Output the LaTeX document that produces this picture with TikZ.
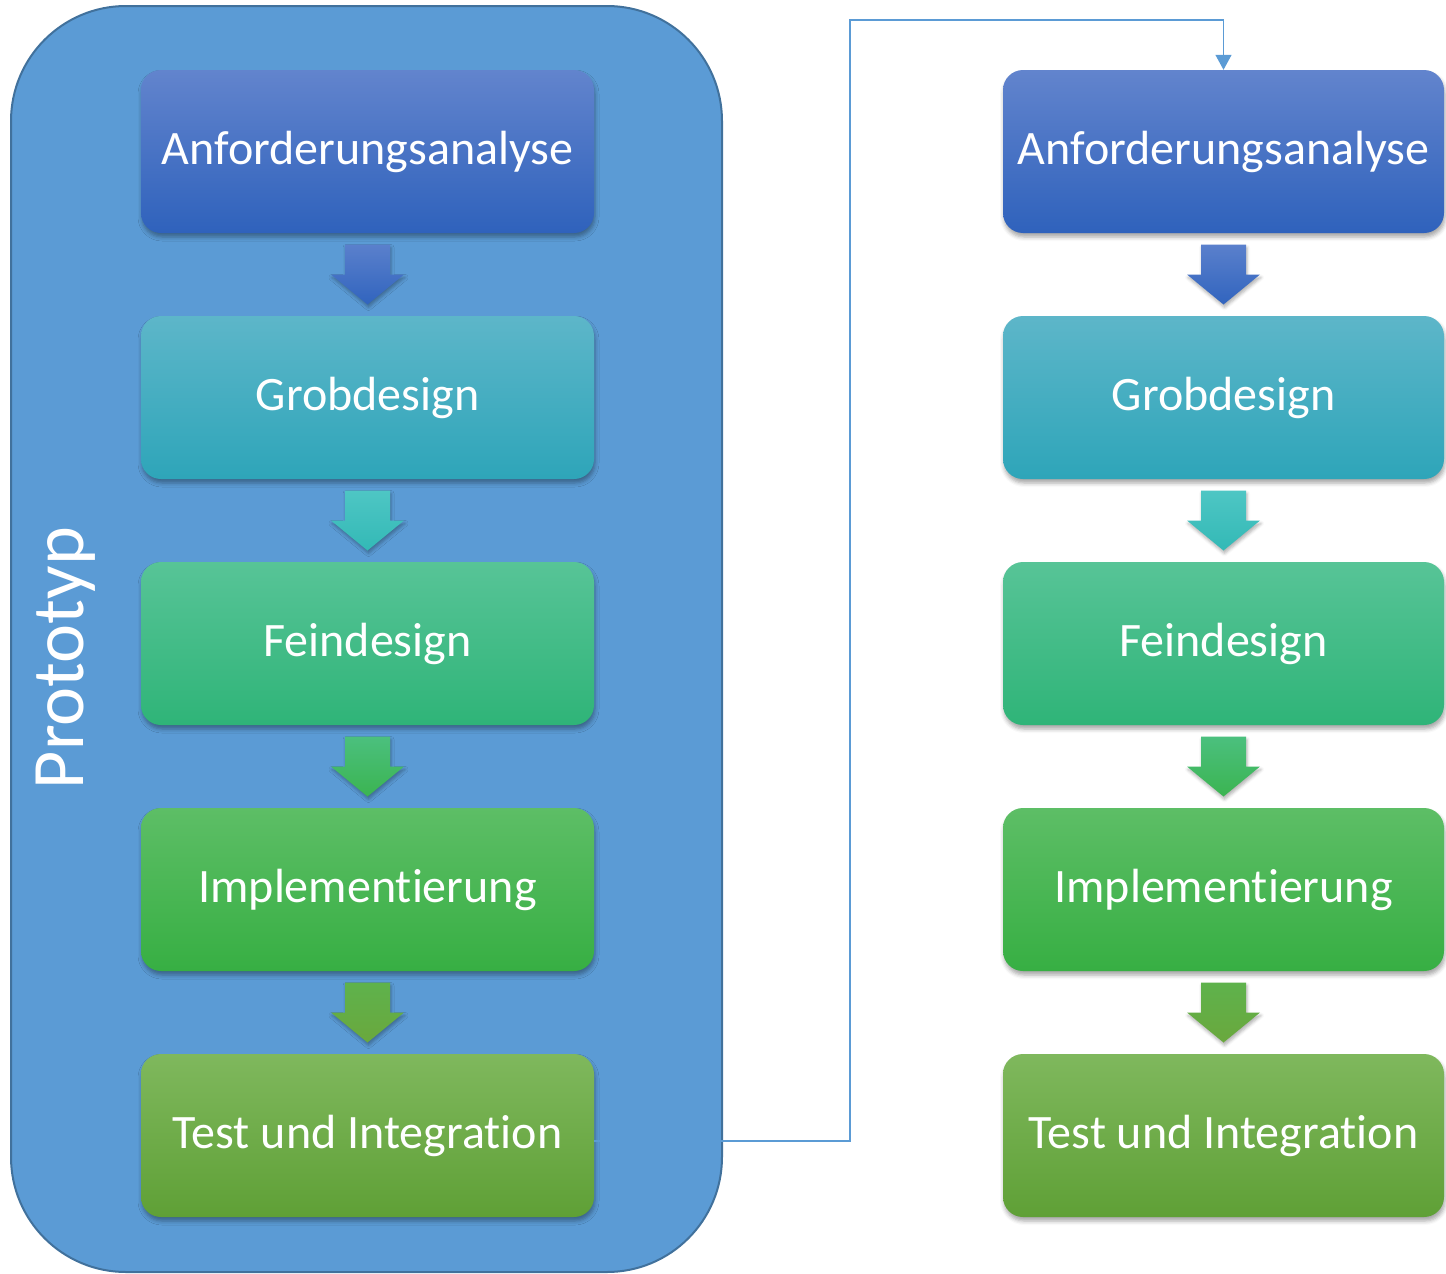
\documentclass[tikz,border=0pt]{standalone}
\usepackage{fontspec}
\setmainfont[Ligatures=NoCommon]{Carlito}
\usetikzlibrary{arrows.meta,shadows.blur,calc}

% stage colours (top / bottom of each gradient)
\definecolor{sOneT}{HTML}{6284CD}
\definecolor{sOneB}{HTML}{2F62BC}
\definecolor{sTwoT}{HTML}{5DB6C9}
\definecolor{sTwoB}{HTML}{2EA5B9}
\definecolor{sThreeT}{HTML}{57C497}
\definecolor{sThreeB}{HTML}{2FB478}
\definecolor{sFourT}{HTML}{5DBE66}
\definecolor{sFourB}{HTML}{37AF43}
\definecolor{sFiveT}{HTML}{7FB85D}
\definecolor{sFiveB}{HTML}{5FA036}
% arrow colours
\definecolor{aOneT}{HTML}{5A80CC}
\definecolor{aOneB}{HTML}{3164BE}
\definecolor{aTwoT}{HTML}{4EC6C4}
\definecolor{aTwoB}{HTML}{33B9B6}
\definecolor{aThreeT}{HTML}{4BC07E}
\definecolor{aThreeB}{HTML}{3BB451}
\definecolor{aFourT}{HTML}{5EB24C}
\definecolor{aFourB}{HTML}{6AA83D}
% container and link
\definecolor{protoFill}{HTML}{5B9BD5}
\definecolor{protoLine}{HTML}{41719C}
\definecolor{linkBlue}{HTML}{5B9BD5}

\tikzset{
  stage/.style={rounded corners=20pt, minimum height=163pt, inner sep=0pt,
    text=white, font=\fontsize{48}{56}\selectfont,
    blur shadow={shadow xshift=1pt, shadow yshift=-4pt,
                 shadow blur radius=4pt, shadow opacity=35}},
  leftstage/.style={stage, minimum width=453pt},
  rightstage/.style={stage, minimum width=441pt},
  link/.style={draw=linkBlue, line width=1.4pt,
    -{Triangle[width=16pt,length=15pt]}},
  pics/flowarrow/.style 2 args={code={
    \path[top color=#1, bottom color=#2,
          blur shadow={shadow xshift=1pt, shadow yshift=-3pt,
                       shadow blur radius=3pt, shadow opacity=30}]
      (-22.5,-30) -- (22.5,-30) -- (22.5,0) -- (36.5,0) -- (0,30)
      -- (-36.5,0) -- (-22.5,0) -- cycle;
  }}
}

\begin{document}
\begin{tikzpicture}[x=1pt,y=-1pt]
\useasboundingbox (0,0) rectangle (1446,1274);

% prototype container
\draw[fill=protoFill, draw=protoLine, line width=2pt, rounded corners=115pt]
  (11,6) rectangle (722,1272);
\node[rotate=90, text=white, font=\fontsize{74}{80}\selectfont, inner sep=0pt]
  (proto) at (66,658) {Prototyp};

% left column
\node[leftstage, top color=sOneT,   bottom color=sOneB]   (L1) at (367.5,151.5)  {Anforderungsanalyse};
\node[leftstage, top color=sTwoT,   bottom color=sTwoB]   (L2) at (367.5,397.5)  {Grobdesign};
\node[leftstage, top color=sThreeT, bottom color=sThreeB] (L3) at (367.5,643.5)  {Feindesign};
\node[leftstage, top color=sFourT,  bottom color=sFourB]  (L4) at (367.5,889.5)  {Implementierung};
\node[leftstage, top color=sFiveT,  bottom color=sFiveB]  (L5) at (367.5,1135.5) {Test und Integration};

% right column
\node[rightstage, top color=sOneT,   bottom color=sOneB]   (R1) at (1223.5,151.5)  {Anforderungsanalyse};
\node[rightstage, top color=sTwoT,   bottom color=sTwoB]   (R2) at (1223.5,397.5)  {Grobdesign};
\node[rightstage, top color=sThreeT, bottom color=sThreeB] (R3) at (1223.5,643.5)  {Feindesign};
\node[rightstage, top color=sFourT,  bottom color=sFourB]  (R4) at (1223.5,889.5)  {Implementierung};
\node[rightstage, top color=sFiveT,  bottom color=sFiveB]  (R5) at (1223.5,1135.5) {Test und Integration};

% block arrows between the stages
\foreach \c in {L,R}{
  \pic at ($(\c1.south)!0.5!(\c2.north)$) {flowarrow={aOneT}{aOneB}};
  \pic at ($(\c2.south)!0.5!(\c3.north)$) {flowarrow={aTwoT}{aTwoB}};
  \pic at ($(\c3.south)!0.5!(\c4.north)$) {flowarrow={aThreeT}{aThreeB}};
  \pic at ($(\c4.south)!0.5!(\c5.north)$) {flowarrow={aFourT}{aFourB}};
}

% link from the prototype to the second pass
\coordinate (out) at ($(L5.east)+(0,5.5)$);
\coordinate (bend) at (850,20);
\draw[link] (out) -| (bend) -| (R1.north);
\end{tikzpicture}
\end{document}
